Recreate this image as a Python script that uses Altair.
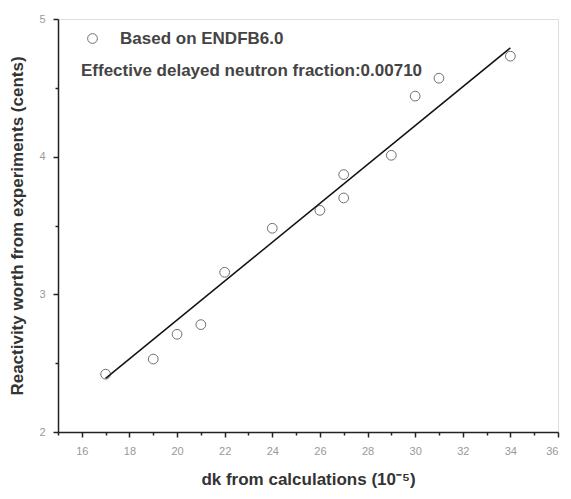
import altair as alt
import pandas as pd

# Measured data (dk from calculations, 1e-5) vs reactivity worth (cents)
dk = [17, 19, 20, 21, 22, 24, 26, 27, 27, 29, 30, 31, 34]
rw = [2.42, 2.53, 2.71, 2.78, 3.16, 3.48, 3.61, 3.70, 3.87, 4.01, 4.44, 4.57, 4.73]
# Fitted line end points
fit_x = [17, 34]
fit_y = [2.39, 4.79]

series_name = "Based on ENDFB6.0"
annotation = "Effective delayed neutron fraction:0.00710"

x_major = [16, 18, 20, 22, 24, 26, 28, 30, 32, 34, 36]
x_minor = [15, 17, 19, 21, 23, 25, 27, 29, 31, 33, 35]
y_major = [2, 3, 4, 5]
y_minor = [2.5, 3.5, 4.5]

FONT = "Liberation Sans"

pts = pd.DataFrame({"dk": dk, "rw": rw, "series": [series_name] * len(dk)})
fit = pd.DataFrame({"dk": fit_x, "rw": fit_y})
note = pd.DataFrame({"label": [annotation]})

xscale = alt.Scale(domain=[15, 36], nice=False, zero=False)
yscale = alt.Scale(domain=[2, 5], nice=False, zero=False)

x_axis = alt.Axis(values=x_major, title="dk from calculations (10⁻⁵)", grid=False,
                  domainColor="#222", domainWidth=1.5, tickColor="#222", tickWidth=1.5,
                  tickSize=5, labelColor="#999", labelFontSize=11, labelPadding=8,
                  titleFontSize=17, titleColor="#333", titleFontWeight="bold",
                  titlePadding=15, labelFont=FONT, titleFont=FONT, orient="bottom")
y_axis = alt.Axis(values=y_major, title="Reactivity worth from experiments (cents)", grid=False,
                  domainColor="#222", domainWidth=1.5, tickColor="#222", tickWidth=1.5,
                  tickSize=5, labelColor="#999", labelFontSize=11, labelPadding=8,
                  titleFontSize=17, titleColor="#333", titleFontWeight="bold",
                  titlePadding=12, labelFont=FONT, titleFont=FONT, orient="left")

points = alt.Chart(pts).mark_point(size=95, strokeWidth=1, filled=False).encode(
    x=alt.X("dk:Q", scale=xscale, axis=x_axis),
    y=alt.Y("rw:Q", scale=yscale, axis=y_axis),
    color=alt.Color("series:N", scale=alt.Scale(range=["#333333"]),
                    legend=alt.Legend(title=None, orient="none", legendX=26, legendY=11,
                                      symbolType="circle", symbolSize=95, symbolStrokeWidth=1,
                                      symbolFillColor="white", labelFontSize=17,
                                      labelFontWeight="bold", labelLimit=0,
                                      labelColor="#444", labelFont=FONT, labelOffset=19,
                                      padding=0)),
)

line = alt.Chart(fit).mark_line(color="#111", strokeWidth=1.5).encode(
    x=alt.X("dk:Q", scale=xscale, axis=None),
    y=alt.Y("rw:Q", scale=yscale, axis=None),
)

minor = alt.Chart(pts).mark_point(opacity=0).encode(
    x=alt.X("dk:Q", scale=xscale,
            axis=alt.Axis(values=x_minor, labels=False, domain=False, grid=False, title=None,
                          tickSize=3, tickColor="#222", tickWidth=1.5, orient="bottom")),
    y=alt.Y("rw:Q", scale=yscale,
            axis=alt.Axis(values=y_minor, labels=False, domain=False, grid=False, title=None,
                          tickSize=3, tickColor="#222", tickWidth=1.5, orient="left")),
)

text = alt.Chart(note).mark_text(align="left", baseline="middle", fontSize=17,
                                 fontWeight="bold", color="#444", font=FONT).encode(
    text="label:N", x=alt.value(23), y=alt.value(52)
)

chart = alt.layer(minor, line, points, text).resolve_axis(
    x="independent", y="independent"
).properties(
    width=500, height=413,
    autosize=alt.AutoSizeParams(type="none"),
    padding={"left": 50, "top": 11, "right": 5, "bottom": 59},
).configure_view(stroke=None).configure(background="white")

chart.save("out.html", embed_options={"renderer": "svg", "actions": False})
